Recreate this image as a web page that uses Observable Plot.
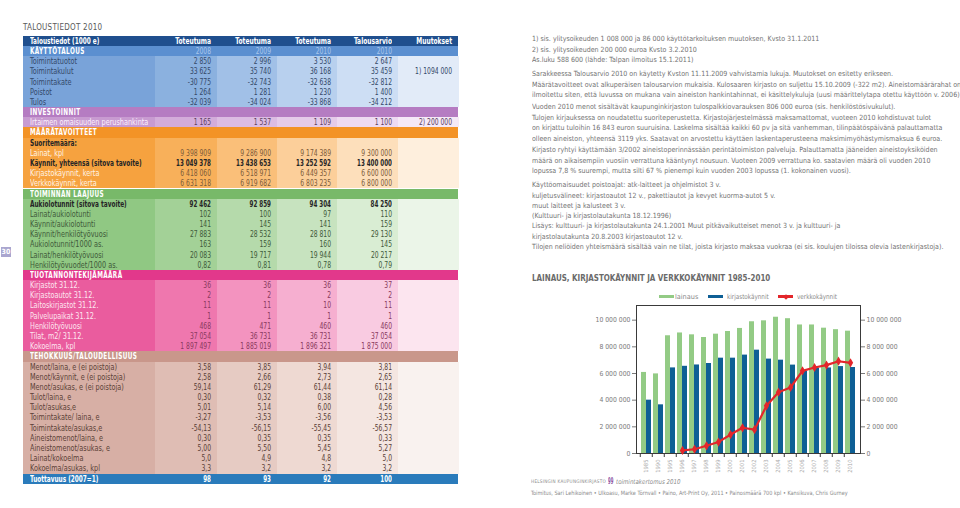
<!DOCTYPE html>
<html><head><meta charset="utf-8">
<script src="https://cdn.jsdelivr.net/npm/d3@7"></script>
<script src="https://cdn.jsdelivr.net/npm/@observablehq/plot@0.6"></script>
<style>
html,body{margin:0;padding:0;background:#fff;width:960px;height:508px;overflow:hidden;}
body{position:relative;font-family:"Liberation Sans Narrow","DejaVu Sans Condensed","Roboto",sans-serif;}
.abs{position:absolute;white-space:nowrap;}
</style></head><body>
<script>
// ---------------- chart data ----------------
const years = ["1985","1990","1995","1996","1997","1998","1999","2000","2001","2002","2003","2004","2005","2006","2007","2008","2009","2010"];
const lainaus = [6080000,5970000,8830000,9040000,8900000,8700000,8950000,9150000,9380000,9880000,9950000,10220000,10110000,9640000,9640000,9398909,9286900,9174389];
const kirjastokaynnit = [4000000,3650000,6420000,6540000,6640000,6750000,7150000,7150000,7380000,7750000,7080000,7000000,6630000,6150000,6400000,6418060,6518971,6449357];
const verkkokaynnit = [null,null,null,230000,320000,580000,860000,1420000,1930000,1790000,3580000,4600000,4950000,6200000,6450000,6631318,6919682,6803235];
const yTicks = [0,2000000,4000000,6000000,8000000,10000000];
const seriesNames = ["lainaus","kirjastokäynnit","verkkokäynnit"];
const chartTitle = "LAINAUS, KIRJASTOKÄYNNIT JA VERKKOKÄYNNIT 1985-2010";

// ---------------- table data ----------------
const tableTitle = "TALOUSTIEDOT 2010";
const headerRow = ["Taloustiedot (1000 e)","Toteutuma","Toteutuma","Toteutuma","Talousarvio","Muutokset"];
const yearRow = ["KÄYTTÖTALOUS","2008","2009","2010","2010",""];
const kayttotalous = [
 ["Toimintatuotot","2 850","2 996","3 530","2 647",""],
 ["Toimintakulut","33 625","35 740","36 168","35 459","1) 1094 000"],
 ["Toimintakate","-30 775","-32 743","-32 638","-32 812",""],
 ["Poistot","1 264","1 281","1 230","1 400",""],
 ["Tulos","-32 039","-34 024","-33 868","-34 212",""]
];
const investoinnit = [["Irtaimen omaisuuden perushankinta","1 165","1 537","1 109","1 100","2) 200 000"]];
const maaratavoitteet = [
 ["Suoritemäärä:","","","","",""],
 ["Lainat, kpl","9 398 909","9 286 900","9 174 389","9 300 000",""],
 ["Käynnit, yhteensä (sitova tavoite)","13 049 378","13 438 653","13 252 592","13 400 000",""],
 ["Kirjastokäynnit, kerta","6 418 060","6 518 971","6 449 357","6 600 000",""],
 ["Verkkokäynnit, kerta","6 631 318","6 919 682","6 803 235","6 800 000",""]
];
const toiminnanLaajuus = [
 ["Aukiolotunnit (sitova tavoite)","92 462","92 859","94 304","84 250",""],
 ["Lainat/aukiolotunti","102","100","97","110",""],
 ["Käynnit/aukiolotunti","141","145","141","159",""],
 ["Käynnit/henkilötyövuosi","27 883","28 532","28 810","29 130",""],
 ["Aukiolotunnit/1000 as.","163","159","160","145",""],
 ["Lainat/henkilötyövuosi","20 083","19 717","19 944","20 217",""],
 ["Henkilötyövuodet/1000 as.","0,82","0,81","0,78","0,79",""]
];
const tuotannontekijat = [
 ["Kirjastot 31.12.","36","36","36","37",""],
 ["Kirjastoautot 31.12.","2","2","2","2",""],
 ["Laitoskirjastot 31.12.","11","11","10","11",""],
 ["Palvelupaikat 31.12.","1","1","1","1",""],
 ["Henkilötyövuosi","468","471","460","460",""],
 ["Tilat, m2/ 31.12.","37 054","36 731","36 731","37 054",""],
 ["Kokoelma, kpl","1 897 497","1 885 019","1 896 321","1 875 000",""]
];
const tehokkuus = [
 ["Menot/laina, e (ei poistoja)","3,58","3,85","3,94","3,81",""],
 ["Menot/käynnit, e (ei poistoja)","2,58","2,66","2,73","2,65",""],
 ["Menot/asukas, e (ei poistoja)","59,14","61,29","61,44","61,14",""],
 ["Tulot/laina, e","0,30","0,32","0,38","0,28",""],
 ["Tulot/asukas,e","5,01","5,14","6,00","4,56",""],
 ["Toimintakate/ laina, e","-3,27","-3,53","-3,56","-3,53",""],
 ["Toimintakate/asukas,e","-54,13","-56,15","-55,45","-56,57",""],
 ["Aineistomenot/laina, e","0,30","0,35","0,35","0,33",""],
 ["Aineistomenot/asukas, e","5,00","5,50","5,45","5,27",""],
 ["Lainat/kokoelma","5,0","4,9","4,8","5,0",""],
 ["Kokoelma/asukas, kpl","3,3","3,2","3,2","3,2",""]
];
const tuottavuus = ["Tuottavuus (2007=1)","98","93","92","100",""];
const sectionTitles = ["INVESTOINNIT","MÄÄRÄTAVOITTEET","TOIMINNAN LAAJUUS","TUOTANNONTEKIJÄMÄÄRÄ","TEHOKKUUS/TALOUDELLISUUS"];
const boldLabels = ["Suoritemäärä:","Käynnit, yhteensä (sitova tavoite)","Aukiolotunnit (sitova tavoite)"];

// ---------------- notes ----------------
const notes = [
 ["1) sis. ylitysoikeuden 1 008 000 ja 86 000 käyttötarkoituksen muutoksen, Kvsto 31.1.2011",
  "2) sis. ylitysoikeuden 200 000 euroa Kvsto 3.2.2010",
  "As.luku 588 600 (lähde: Talpan ilmoitus 15.1.2011)"],
 ["Sarakkeessa Talousarvio 2010 on käytetty Kvston 11.11.2009  vahvistamia lukuja. Muutokset on esitetty erikseen.",
  "Määrätavoitteet ovat alkuperäisen talousarvion mukaisia. Kulosaaren kirjasto on suljettu 15.10.2009 (-322 m2). Aineistomäärärahat on",
  "ilmoitettu siten, että luvussa on mukana vain aineiston hankintahinnat, ei käsittelykuluja (uusi määrittelytapa otettu käyttöön v. 2006)."],
 ["Vuoden 2010 menot sisältävät kaupunginkirjaston tulospalkkiovarauksen 806 000 euroa (sis. henkilöstösivukulut).",
  "Tulojen kirjauksessa on noudatettu suoriteperustetta. Kirjastojärjestelmässä maksamattomat, vuoteen 2010 kohdistuvat tulot",
  "on kirjattu tuloihin 16 843 euron suuruisina. Laskelma sisältää kaikki 60 pv ja sitä vanhemman, tilinpäätöspäivänä palauttamatta",
  "olleen aineiston, yhteensä 3119 yks. Saatavat on arvostettu käyttäen laskentaperusteena maksimimyöhästymismaksua 6 euroa."],
 ["Kirjasto ryhtyi käyttämään 3/2002 aineistoperinnässään perintätoimiston palveluja. Palauttamatta jääneiden aineistoyksiköiden",
  "määrä on aikaisempiin vuosiin verrattuna kääntynyt nousuun. Vuoteen 2009 verrattuna ko. saatavien määrä oli vuoden 2010",
  "lopussa 7,8 % suurempi, mutta silti 67 % pienempi kuin vuoden 2003 lopussa (1. kokonainen vuosi)."],
 ["Käyttöomaisuudet poistoajat: atk-laitteet ja ohjelmistot 3 v.",
  "kuljetusvälineet: kirjastoautot 12 v., pakettiautot ja kevyet kuorma-autot 5 v.",
  "muut laitteet ja kalusteet 3 v.",
  "(Kulttuuri- ja kirjastolautakunta 18.12.1996)",
  "Lisäys: kulttuuri- ja kirjastolautakunta 24.1.2001 Muut pitkävaikutteiset menot 3 v. ja kulttuuri- ja",
  "kirjastolautakunta 20.8.2003 kirjastoautot 12 v.",
  "Tilojen neliöiden yhteismäärä sisältää vain ne tilat, joista kirjasto maksaa vuokraa (ei sis. koulujen tiloissa olevia lastenkirjastoja)."]
];
const footer1a = "HELSINGIN KAUPUNGINKIRJASTO";
const footer1b = "99";
const footer1c = "toimintakertomus 2010";
const footer2 = "Toimitus, Sari Lehikoinen • Ulkoasu, Marke Törnvall • Paino, Art-Print Oy,  2011 • Painosmäärä 700 kpl • Kansikuva, Chris Gurney";
const pageNumber = "30";

// ---------------- layout (pixel geometry, not data) ----------------
const noteLineY = [39,49.5,60, 74,84.5,95, 107,117.5,128,138.5, 150,160.5,171, 185,195.5,205.5,215.5,226,236.5,247];

// ---------------- helpers ----------------
const FONT = '"Liberation Sans Narrow","DejaVu Sans Condensed","Roboto",sans-serif';
function div(txt, css){
  const d = document.createElement("div");
  d.className = "abs";
  d.textContent = txt;
  Object.assign(d.style, css);
  document.body.appendChild(d);
  return d;
}
function measure(txt, css){
  const c = Object.assign({}, css); delete c.transform; delete c.width; delete c.textAlign;
  const d = div(txt, Object.assign(c, {left:"0px", top:"0px", visibility:"hidden"}));
  const w = d.getBoundingClientRect().width; d.remove(); return w;
}
function fitLeft(txt, css, left, target){
  const d = div(txt, Object.assign({}, css, {left:left+"px"}));
  const w = d.getBoundingClientRect().width;
  d.style.transform = "scaleX(" + (target / w) + ")";
  d.style.transformOrigin = "0 50%";
  return d;
}

// ---------------- table ----------------
const COLX = [23,155,217,277,337,398,458];
const ROWH = 10.18, TOP0 = 35.8;
const PAL = {
  blue:   {head:"#5b8fd0", cells:["#79a3d9","#8bb1df","#a1c0e7","#b8d0ee","#cddef4","#e2ebf8"], lab:"#34496a", num:"#34496a"},
  purple: {head:"#b57cc2", cells:["#c89bd1","#d3acda","#dcbce2","#e5cbe9","#eedaf1","#f5e9f7"], lab:"#fbf1fc", num:"#5b3f61"},
  orange: {head:"#f39326", cells:["#f6a23f","#f8b05a","#fabf79","#fccf9a","#fddfbb","#feefdd"], lab:"#fff4e6", num:"#7d5b39"},
  green:  {head:"#78b969", cells:["#90c883","#a3d197","#b5daab","#c7e3bf","#d9edd3","#ebf5e8"], lab:"#3f5a3a", num:"#3f5a3a"},
  pink:   {head:"#e2388b", cells:["#ea5c9e","#ef77ae","#f393bf","#f6afd0","#f9cbe1","#fce5ef"], lab:"#fde6f0", num:"#8a3a5e"},
  rose:   {head:"#c9978b", cells:["#d7afa5","#dfbdb4","#e6cbc3","#eed9d2","#f4e6e1","#f9f2ef"], lab:"#5b3f37", num:"#5b3f37"}
};
const rows = [];
rows.push({type:"header", cells:headerRow});
rows.push({type:"section", pal:"blue", cells:yearRow});
kayttotalous.forEach(r=>rows.push({type:"data", pal:"blue", cells:r}));
rows.push({type:"section", pal:"purple", cells:[sectionTitles[0]]});
investoinnit.forEach(r=>rows.push({type:"data", pal:"purple", cells:r}));
rows.push({type:"section", pal:"orange", cells:[sectionTitles[1]]});
maaratavoitteet.forEach(r=>rows.push({type:"data", pal:"orange", cells:r}));
rows.push({type:"section", pal:"green", cells:[sectionTitles[2]]});
toiminnanLaajuus.forEach(r=>rows.push({type:"data", pal:"green", cells:r}));
rows.push({type:"section", pal:"pink", cells:[sectionTitles[3]]});
tuotannontekijat.forEach(r=>rows.push({type:"data", pal:"pink", cells:r}));
rows.push({type:"section", pal:"rose", cells:[sectionTitles[4]]});
tehokkuus.forEach(r=>rows.push({type:"data", pal:"rose", cells:r}));
rows.push({type:"total", cells:tuottavuus});

const TFS = "8.2px";
const tReg  = {fontSize:TFS, fontFamily:FONT, fontWeight:"normal"};
const tBold = {fontSize:TFS, fontFamily:FONT, fontWeight:"bold"};
const tSec  = {fontSize:TFS, fontFamily:FONT, fontWeight:"bold", letterSpacing:"0.5px"};
const K = {
  regLabel:  118.3 / measure("Irtaimen omaisuuden perushankinta", tReg),
  boldLabel: 111.7 / measure("Käynnit, yhteensä (sitova tavoite)", tBold),
  headLabel: 69.3  / measure("Taloustiedot (1000 e)", tBold),
  secLabel:  107.3 / measure("TEHOKKUUS/TALOUDELLISUUS", tSec),
  regNum:    30.7  / measure("9 398 909", tReg),
  boldNum:   35    / measure("13 049 378", tBold),
  headNum:   35.7  / measure("Toteutuma", tBold)
};

fitLeft(tableTitle, {top:(27-6)+"px", lineHeight:"12px", fontSize:"9.5px", color:"#5a5a5a", letterSpacing:"0.3px", fontFamily:FONT}, 23.3, 79.4);

rows.forEach((row, i) => {
  const top = TOP0 + i*ROWH;
  const base = {top: top+"px", height: ROWH+"px", lineHeight: ROWH+"px", fontSize:TFS, fontFamily:FONT};
  if (row.type === "header" || row.type === "total" || row.type === "section") {
    const bg = row.type === "header" ? "#1f4f8e" : row.type === "total" ? "#2a7bbb" : PAL[row.pal].head;
    div("", Object.assign({}, base, {left:COLX[0]+"px", width:(COLX[6]-COLX[0])+"px", background:bg}));
  } else {
    for (let c=0;c<6;c++) div("", Object.assign({}, base, {left:COLX[c]+"px", width:(COLX[c+1]-COLX[c]+0.5)+"px", background:PAL[row.pal].cells[c]}));
  }
  row.cells.forEach((t, c) => {
    if (!t) return;
    let color, weight = "normal", extra = {}, k;
    if (row.type === "header" || row.type === "total") {
      color = "#fff"; weight = "bold";
      k = c === 0 ? K.headLabel : (row.type === "header" ? K.headNum : K.boldNum);
    } else if (row.type === "section") {
      if (c === 0) { color = "#fff"; weight = "bold"; extra.letterSpacing = "0.5px"; k = K.secLabel; }
      else { color = "#a9c6ec"; k = K.regNum; }
    } else {
      const bold = boldLabels.includes(row.cells[0]);
      if (bold) { color = "#262626"; weight = "bold"; k = c === 0 ? K.boldLabel : K.boldNum; }
      else { color = c === 0 ? PAL[row.pal].lab : PAL[row.pal].num; k = c === 0 ? K.regLabel : K.regNum; }
    }
    const st = Object.assign({}, base, {color, fontWeight:weight}, extra);
    if (c === 0) {
      st.left = (COLX[0]+7)+"px";
      st.transformOrigin = "0 50%";
    } else {
      st.left = COLX[c]+"px"; st.width = (COLX[c+1]-COLX[c]-6)+"px"; st.textAlign = "right";
      st.transformOrigin = "100% 50%";
    }
    st.transform = "scaleX(" + k + ")";
    div(t, st);
  });
});
div(pageNumber, {left:"1px", top:"247px", width:"10px", height:"10px", lineHeight:"10px", fontSize:"7px", fontWeight:"bold", color:"#fff", background:"#aaa6cf", textAlign:"center", fontFamily:FONT});

// ---------------- notes ----------------
const noteCss = {lineHeight:"10px", fontSize:"7.1px", color:"#727272", fontFamily:FONT};
// one common horizontal scale, calibrated on lines whose extent is well readable in the reference
const calib = [[notes[0][0], 813 - 531.7], [notes[1][0], 900 - 531.7], [notes[1][1], 959.3 - 531.7], [notes[4][6], 945 - 531.7]];
const kNotes = d3.mean(calib, ([t, w]) => w / measure(t, noteCss));
let li = 0;
notes.forEach((para) => {
  para.forEach(line => {
    const cy = noteLineY[li];
    div(line, Object.assign({}, noteCss, {left:"531.7px", top:(cy-5)+"px", transform:"scaleX(" + kNotes + ")", transformOrigin:"0 50%"}));
    li++;
  });
});

// ---------------- chart title, legend ----------------
fitLeft(chartTitle, {top:(277.5-6)+"px", lineHeight:"12px", fontSize:"9.3px", fontWeight:"bold", color:"#6a6a6a", fontFamily:FONT}, 531.7, 238.3);
const GREEN = "#93cb85", BLUE = "#0e5f95", RED = "#e3262b";
const legendItems = [
  {name:seriesNames[0], color:GREEN, sx:659, tx:675, tw:23.3},
  {name:seriesNames[1], color:BLUE, sx:708, tx:726.7, tw:41.7},
  {name:seriesNames[2], color:RED, sx:778, tx:796.7, tw:40}
];
legendItems.forEach((it, k) => {
  div("", {left:it.sx+"px", top:"295.3px", width:"15px", height:"2.4px", background:it.color});
  if (k === 2) div("", {left:(it.sx+5.5)+"px", top:"294.5px", width:"4px", height:"4px", background:it.color, transform:"rotate(45deg)"});
  fitLeft(it.name, {top:(296.5-5)+"px", lineHeight:"10px", fontSize:"6.8px", color:"#8a8a8a", fontFamily:FONT}, it.tx, it.tw);
});

// ---------------- chart ----------------
const chartData = years.map((y,i)=>({year:y, lainaus:lainaus[i], kirjasto:kirjastokaynnit[i], verkko:verkkokaynnit[i]}));
const fmt = d => d3.format(",")(d).replace(/,/g, " ");
const yFont = 6.6 * 35 / measure("10 000 000", {fontSize:"6.6px", fontFamily:FONT});
const xFont = 6.6 * 13.3 / measure("1985", {fontSize:"6.6px", fontFamily:FONT});
const tickSym = {draw(ctx){ ctx.moveTo(0,0); ctx.lineTo(0,3.5); }};
const chart = Plot.plot({
  width: 440, height: 190,
  marginLeft: 116, marginRight: 100, marginTop: 5, marginBottom: 37,
  style: {background:"transparent", fontFamily:FONT, fontSize:yFont+"px", color:"#7a7a7a", overflow:"visible"},
  x: {domain: years, type:"band", paddingInner:0.2, paddingOuter:0.1, tickSize:0, tickRotate:-90, tickPadding:6, label:null},
  y: {domain:[0,11100000], ticks:yTicks, axis:"both", tickFormat:fmt, tickSize:4, tickPadding:2, label:null},
  marks: [
    Plot.barY(chartData, {x:"year", y:"lainaus", fill:GREEN, insetRight:5}),
    Plot.barY(chartData, {x:"year", y:"kirjasto", fill:BLUE, insetLeft:5}),
    Plot.frame({stroke:"#3a3a3a"}),
    Plot.dot(years, {x:d=>d, y:()=>0, dx:-6.22, symbol:tickSym, stroke:"#3a3a3a", strokeWidth:1}),
    Plot.line(chartData, {x:"year", y:"verkko", stroke:RED, strokeWidth:2.2}),
    Plot.dot(chartData.filter(d=>d.verkko!=null), {x:"year", y:"verkko", symbol:"diamond", fill:RED, r:2.8})
  ]
});
Object.assign(chart.style, {position:"absolute", left:"520px", top:"300px"});
document.body.appendChild(chart);
d3.select(chart).selectAll('[aria-label^="x-axis"] text').attr("fill","#a8a8a8").style("font-size", xFont+"px");

// ---------------- footer ----------------
const fTop = (482-5)+"px";
fitLeft(footer1a, {top:fTop, lineHeight:"10px", fontSize:"4.8px", letterSpacing:"0.3px", color:"#8a8a8a", fontFamily:FONT}, 531, 75);
fitLeft(footer1b, {top:fTop, lineHeight:"10px", fontSize:"8px", fontWeight:"bold", color:"#8d57a3", fontFamily:FONT}, 607.7, 5.4);
fitLeft(footer1c, {top:fTop, lineHeight:"10px", fontSize:"6.6px", fontStyle:"italic", color:"#8a8a8a", fontFamily:FONT}, 615.5, 64.5);
fitLeft(footer2, {top:(492.5-5)+"px", lineHeight:"10px", fontSize:"5.9px", color:"#8a8a8a", fontFamily:FONT}, 531, 316.7);
</script>
</body></html>
